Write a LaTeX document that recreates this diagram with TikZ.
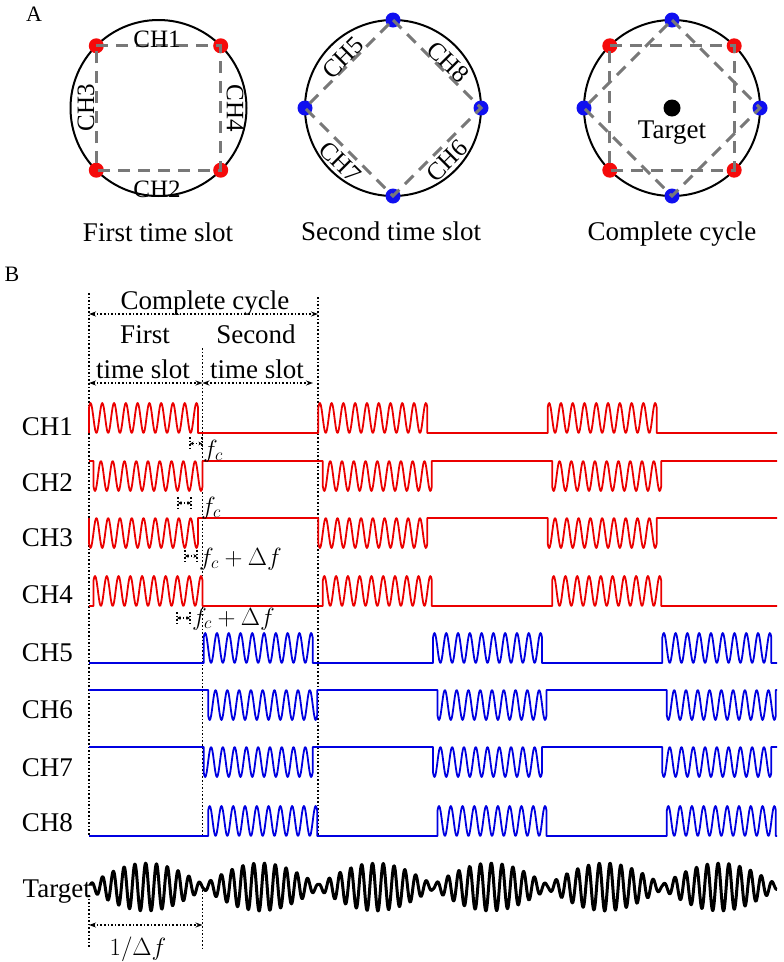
\documentclass[tikz,border=0pt]{standalone}
\usepackage{fontspec}
\setmainfont{Liberation Serif}
\usetikzlibrary{arrows.meta}
\definecolor{redc}{RGB}{235,0,0}
\definecolor{bluec}{RGB}{0,0,225}
\definecolor{dotred}{RGB}{245,10,10}
\definecolor{dotblue}{RGB}{15,15,240}
\definecolor{dashgray}{RGB}{120,120,120}
\newcommand\chanline[4]{\draw[#1] (89,#2) foreach \s [evaluate=\s as \ee using \s+109] in {#4} { -- (\s,#2) -- plot[domain=\s:\ee,samples=140] (\x,{#2 #3 15*(1+cos(((\x-\s-1.5)/11.78)*360))}) -- (\ee,#2) } -- (777,#2);}
\begin{document}
\begin{tikzpicture}[x=1pt,y=-1pt,
  lab/.style={font=\fontsize{27}{30}\selectfont, inner sep=0pt},
  clab/.style={font=\fontsize{25}{28}\selectfont, inner sep=0pt},
  panel/.style={font=\fontsize{22}{24}\selectfont, inner sep=0pt},
  ring/.style={draw=black, line width=2pt},
  rdot/.style={circle, fill=dotred, minimum size=15pt, inner sep=0pt},
  bdot/.style={circle, fill=dotblue, minimum size=15pt, inner sep=0pt},
  dsq/.style={draw=dashgray, line width=3pt, dash pattern=on 12pt off 8pt},
  redw/.style={draw=redc, line width=1.8pt, line join=round},
  bluew/.style={draw=bluec, line width=1.8pt, line join=round},
  tw/.style={draw=black, line width=3pt, line join=round},
  dim/.style={draw=black, line width=1.3pt, dash pattern=on 1.6pt off 2pt},
  dimar/.style={dim, {Stealth[length=7pt,width=5pt]}-{Stealth[length=7pt,width=5pt]}},
  tiny/.style={dim, line width=1.1pt, {Stealth[length=3.5pt,width=3.5pt]}-{Stealth[length=3.5pt,width=3.5pt]}},
  tick/.style={dim, line width=1.1pt}]
\useasboundingbox (0,0) rectangle (784,962);
\fill[white] (0,0) rectangle (784,962);

% ---------- Panel A ----------
\node[panel] (pA) at (34,14) {A};
% circle 1
\node[ring, circle, minimum size=176pt, inner sep=0pt] (c1) at (158.5,108) {};
\node[rdot] (r1a) at (96.3,45.8) {};
\node[rdot] (r1b) at (220.7,45.8) {};
\node[rdot] (r1c) at (220.7,170.2) {};
\node[rdot] (r1d) at (96.3,170.2) {};
\draw[dsq] (r1a.center) -- (r1b.center) -- (r1c.center) -- (r1d.center) -- cycle;
\node[clab, anchor=base] (l1) at (157,47) {CH1};
\node[clab, anchor=base] (l2) at (157,197) {CH2};
\node[clab, rotate=90] (l3) at (86,108) {CH3};
\node[clab, rotate=-90] (l4) at (235,108) {CH4};
\node[lab, anchor=base] (t1) at (158,241) {First time slot};
% circle 2
\node[ring, circle, minimum size=176pt, inner sep=0pt] (c2) at (393,108) {};
\node[bdot] (b2t) at (393,20) {};
\node[bdot] (b2r) at (481,108) {};
\node[bdot] (b2b) at (393,196) {};
\node[bdot] (b2l) at (305,108) {};
\draw[dsq] (b2t.center) -- (b2r.center) -- (b2b.center) -- (b2l.center) -- cycle;
\node[clab, rotate=45] (l5) at (343,58) {CH5};
\node[clab, rotate=-45] (l8) at (448,62) {CH8};
\node[clab, rotate=-45] (l7) at (340,162) {CH7};
\node[clab, rotate=45] (l6) at (447,161) {CH6};
\node[lab, anchor=base] (t2) at (391,240) {Second time slot};
% circle 3
\node[ring, circle, minimum size=176pt, inner sep=0pt] (c3) at (672,108) {};
\node[rdot] (r3a) at (609.8,45.8) {};
\node[rdot] (r3b) at (734.2,45.8) {};
\node[rdot] (r3c) at (734.2,170.2) {};
\node[rdot] (r3d) at (609.8,170.2) {};
\node[bdot] (b3t) at (672,20) {};
\node[bdot] (b3r) at (760,108) {};
\node[bdot] (b3b) at (672,196) {};
\node[bdot] (b3l) at (584,108) {};
\draw[dsq] (r3a.center) -- (r3b.center) -- (r3c.center) -- (r3d.center) -- cycle;
\draw[dsq] (b3t.center) -- (b3r.center) -- (b3b.center) -- (b3l.center) -- cycle;
\node[circle, fill=black, minimum size=17pt, inner sep=0pt] (tg) at (672,108) {};
\node[lab, anchor=base] (tgl) at (672,138) {Target};
\node[lab, anchor=base] (t3) at (672,240) {Complete cycle};

% ---------- Panel B ----------
\node[panel] (pB) at (12,274) {B};
\coordinate (L0) at (89,293);   \coordinate (L1) at (89,836);
\coordinate (M0) at (202.5,348); \coordinate (M1) at (202.5,836);
\coordinate (R0) at (318,297);  \coordinate (R1) at (318,836);
\draw[dim] (L0) -- (L1);
\draw[dim] (M0) -- (M1);
\draw[dim] (R0) -- (R1);
\coordinate (ca1) at (89,314); \coordinate (ca2) at (318,314);
\draw[dimar] (ca1) -- (ca2);
\coordinate (sa1) at (89,383); \coordinate (sa2) at (202.5,383); \coordinate (sa3) at (313,383);
\draw[dimar] (sa1) -- (sa2);
\draw[dimar] (sa2) -- (sa3);
\node[lab, anchor=base] (cc) at (205,309) {Complete cycle};
\node[lab, anchor=base] (fs1) at (145,343) {First};
\node[lab, anchor=base] (fs2) at (143,378) {time slot};
\node[lab, anchor=base] (ss1) at (256,343) {Second};
\node[lab, anchor=base] (ss2) at (257,378) {time slot};

% channel labels
\node[lab, anchor=east] (n1) at (73,427) {CH1};
\node[lab, anchor=east] (n2) at (73,483) {CH2};
\node[lab, anchor=east] (n3) at (73,538) {CH3};
\node[lab, anchor=east] (n4) at (73,595) {CH4};
\node[lab, anchor=east] (n5) at (73,653) {CH5};
\node[lab, anchor=east] (n6) at (73,710) {CH6};
\node[lab, anchor=east] (n7) at (73,768) {CH7};
\node[lab, anchor=east] (n8) at (73,823) {CH8};
\node[lab, anchor=base east] (nt) at (91,897) {Target};

% waveforms
\chanline{redw}{433}{-}{89,318.33,547.67}
\chanline{redw}{461}{+}{93.5,322.83,552.17}
\chanline{redw}{518}{+}{89,318.33,547.67}
\chanline{redw}{606}{-}{93.5,322.83,552.17}
\chanline{bluew}{663}{-}{203.67,433,662.33}
\chanline{bluew}{690}{+}{208.17,437.5,666.83}
\chanline{bluew}{747}{+}{203.67,433,662.33}
\chanline{bluew}{836}{-}{208.17,437.5,666.83}
\draw[tw] plot[domain=90:777,samples=1500] (\x,{887-(2.5+21.5*abs(sin(((\x-89)/114.67)*180)))*sin(mod((\x-89)/10.8,1)*360)});

% fc markers
\coordinate (k1a) at (190,437); \coordinate (k1b) at (190,450);
\coordinate (k1c) at (202,437); \coordinate (k1d) at (202,450);
\draw[tick] (k1a) -- (k1b); \draw[tick] (k1c) -- (k1d);
\coordinate (a1a) at (190,443.5); \coordinate (a1b) at (202,443.5);
\draw[tiny] (a1a) -- (a1b);
\node[lab, anchor=west] (f1) at (203,451) {$f_c$};

\coordinate (k2a) at (178,497); \coordinate (k2b) at (178,509);
\coordinate (k2c) at (191,497); \coordinate (k2d) at (191,509);
\draw[tick] (k2a) -- (k2b); \draw[tick] (k2c) -- (k2d);
\coordinate (a2a) at (178,503); \coordinate (a2b) at (191,503);
\draw[tiny] (a2a) -- (a2b);
\node[lab, anchor=west] (f2) at (201,508) {$f_c$};

\coordinate (k3a) at (185,550); \coordinate (k3b) at (185,562);
\coordinate (k3c) at (197,550); \coordinate (k3d) at (197,562);
\draw[tick] (k3a) -- (k3b); \draw[tick] (k3c) -- (k3d);
\coordinate (a3a) at (185,556); \coordinate (a3b) at (197,556);
\draw[tiny] (a3a) -- (a3b);
\node[lab, anchor=west] (f3) at (199,559) {$f_c+\Delta f$};

\coordinate (k4a) at (177,612); \coordinate (k4b) at (177,624);
\coordinate (k4c) at (190,612); \coordinate (k4d) at (190,624);
\draw[tick] (k4a) -- (k4b); \draw[tick] (k4c) -- (k4d);
\coordinate (a4a) at (177,618); \coordinate (a4b) at (190,618);
\draw[tiny] (a4a) -- (a4b);
\node[lab, anchor=west] (f4) at (192,619) {$f_c+\Delta f$};

% 1/Delta f
\coordinate (p1) at (89,895);  \coordinate (p2) at (89,948);
\coordinate (q1) at (202.5,890); \coordinate (q2) at (202.5,948);
\draw[dim] (p1) -- (p2);
\draw[dim] (q1) -- (q2);
\coordinate (da1) at (89,925); \coordinate (da2) at (202.5,925);
\draw[dimar] (da1) -- (da2);
\node[lab, anchor=base] (df) at (138,955) {$1/\Delta f$};
\end{tikzpicture}
\end{document}
